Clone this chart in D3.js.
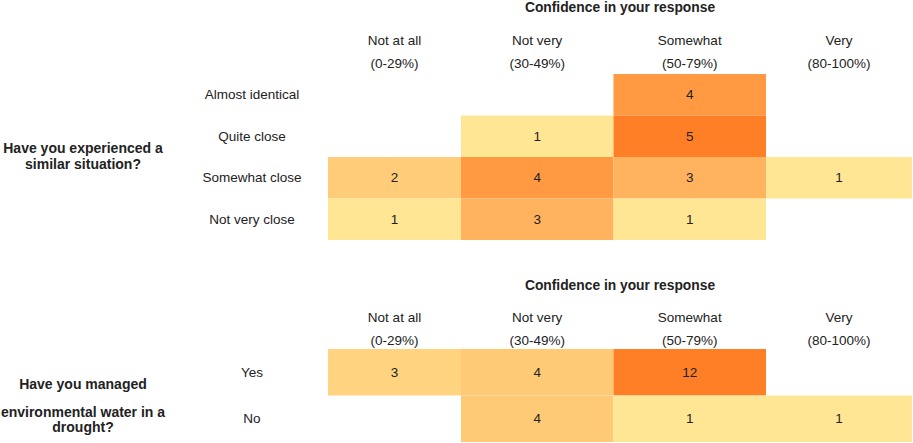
<!DOCTYPE html>
<html>
<head>
<meta charset="utf-8">
<script src="https://cdn.jsdelivr.net/npm/d3@7"></script>
<style>
  body { margin: 0; background: #fff; }
  text { font-family: "Liberation Sans", Arial, sans-serif; fill: #222; }
</style>
</head>
<body>
<div id="chart-area"></div>
<script>
// DATA
const columns = ["Not at all", "Not very", "Somewhat", "Very"]
const columnRanges = ["(0-29%)", "(30-49%)", "(50-79%)", "(80-100%)"]

const experienceRows = ["Almost identical", "Quite close", "Somewhat close", "Not very close"]
const experienceCounts = [
  [null, null, 4, null],
  [null, 1, 5, null],
  [2, 4, 3, 1],
  [1, 3, 1, null]
]

const droughtRows = ["Yes", "No"]
const droughtCounts = [
  [3, 4, 12, null],
  [null, 4, 1, 1]
]

const axisTitle = "Confidence in your response"

const width = 913
const height = 443

const svg = d3.select("#chart-area").append("svg").attr("width", width).attr("height", height)

// column boundaries (the first column of the table is a bit narrower)
const x = d3.scaleLinear().domain([0, 1, 2, 3, 4]).range([328, 461, 613.5, 766, 912])
const colCenter = i => (x(i) + x(i + 1)) / 2

function drawPanel(cfg) {
  const y = d3.scaleBand().domain(cfg.rows).range(cfg.yRange)
  const max = d3.max(cfg.counts.flat())
  const color = d3.scaleLinear().domain([1, max]).range(["#ffe694", "#ff7f27"]).interpolate(d3.interpolateRgb)

  const cells = []
  cfg.counts.forEach((row, r) => {
    row.forEach((v, c) => {
      if (v !== null) cells.push({ row: cfg.rows[r], col: c, value: v })
    })
  })

  const g = svg.append("g")

  g.append("text")
    .attr("x", 620)
    .attr("y", cfg.titleY)
    .attr("text-anchor", "middle")
    .attr("font-size", 13.8)
    .attr("font-weight", "bold")
    .text(axisTitle)

  g.selectAll(".col-name").data(columns).enter()
    .append("text")
    .attr("x", (d, i) => colCenter(i))
    .attr("y", cfg.labelY)
    .attr("text-anchor", "middle")
    .attr("font-size", 13.5)
    .text(d => d)

  g.selectAll(".col-range").data(columnRanges).enter()
    .append("text")
    .attr("x", (d, i) => colCenter(i))
    .attr("y", cfg.labelY + 23)
    .attr("text-anchor", "middle")
    .attr("font-size", 13.5)
    .text(d => d)

  g.selectAll(".row-name").data(cfg.rows).enter()
    .append("text")
    .attr("x", 252)
    .attr("y", d => y(d) + y.bandwidth() / 2)
    .attr("dy", "0.35em")
    .attr("text-anchor", "middle")
    .attr("font-size", 13.5)
    .text(d => d)

  g.selectAll("rect").data(cells).enter()
    .append("rect")
    .attr("x", d => x(d.col))
    .attr("y", d => y(d.row))
    .attr("width", d => x(d.col + 1) - x(d.col))
    .attr("height", y.bandwidth())
    .attr("fill", d => color(d.value))

  g.selectAll(".value").data(cells).enter()
    .append("text")
    .attr("x", d => colCenter(d.col))
    .attr("y", d => y(d.row) + y.bandwidth() / 2)
    .attr("dy", "0.35em")
    .attr("text-anchor", "middle")
    .attr("font-size", 13.5)
    .text(d => d.value)

  cfg.question.forEach(q => {
    g.append("text")
      .attr("x", 83)
      .attr("y", q.y)
      .attr("dy", "0.35em")
      .attr("text-anchor", "middle")
      .attr("font-size", 14)
      .attr("font-weight", "bold")
      .text(q.text)
  })
}

drawPanel({
  rows: experienceRows,
  counts: experienceCounts,
  yRange: [74, 240],
  titleY: 12,
  labelY: 45,
  question: [
    { text: "Have you experienced a", y: 148 },
    { text: "similar situation?", y: 164 }
  ]
})

drawPanel({
  rows: droughtRows,
  counts: droughtCounts,
  yRange: [349, 442],
  titleY: 290,
  labelY: 322,
  question: [
    { text: "Have you managed", y: 384 },
    { text: "environmental water in a", y: 412 },
    { text: "drought?", y: 427 }
  ]
})
</script>
</body>
</html>
